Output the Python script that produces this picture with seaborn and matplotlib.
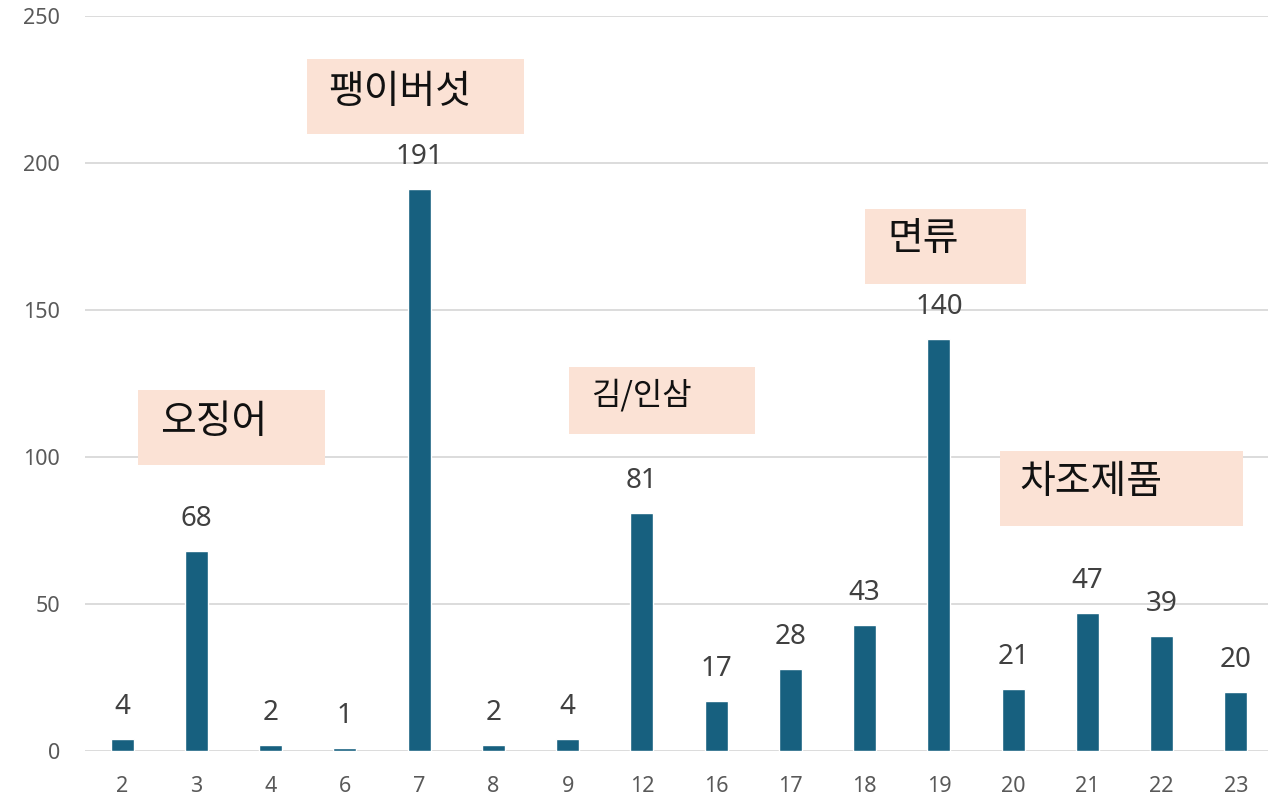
import matplotlib
matplotlib.use("Agg")
import matplotlib.pyplot as plt
import seaborn as sns
import pandas as pd
from matplotlib.patches import Rectangle

categories = ["2", "3", "4", "6", "7", "8", "9", "12", "16", "17", "18", "19", "20", "21", "22", "23"]
values = [4, 68, 2, 1, 191, 2, 4, 81, 17, 28, 43, 140, 21, 47, 39, 20]
notes = ["오징어", "팽이버섯", "김/인삼", "면류", "차조제품"]

sns.set_theme(style="white")
plt.rcParams["font.family"] = ["Noto Sans", "Noto Sans CJK KR", "DejaVu Sans"]

df = pd.DataFrame({"cat": categories, "val": values})

fig = plt.figure(figsize=(12.68, 7.98), dpi=100)
ax = fig.add_axes([0.067, 0.0589, 0.937, 0.9211])

sns.barplot(data=df, x="cat", y="val", color="#17607f", width=0.31,
            saturation=1, ax=ax)

ax.set_ylim(0, 250)
ax.set_xlim(-0.5, len(categories) - 0.5)
ax.set_yticks([0, 50, 100, 150, 200, 250])
ax.yaxis.grid(True, color="#d9d9d9", linewidth=1.3)
ax.set_axisbelow(True)
for s in ax.spines.values():
    s.set_visible(False)
ax.set_xlabel("")
ax.set_ylabel("")
ax.tick_params(axis="both", length=0, labelsize=15.5, labelcolor="#595959")
ax.tick_params(axis="x", pad=18)
ax.tick_params(axis="y", pad=18)

ax.bar_label(ax.containers[0], labels=[str(v) for v in values],
             padding=13, fontsize=20, color="#404040")

# annotation boxes: (x0, x1, y0, y1, text_x, text_y, fontsize)
boxes = [
    (0.215, 2.73, 97.3, 122.8, 0.51, 112.0, 28),
    (2.49, 5.41, 209.9, 235.4, 2.77, 224.0, 28),
    (6.02, 8.52, 107.8, 130.6, 6.31, 121.0, 23),
    (10.0, 12.17, 158.8, 184.4, 10.3, 174.0, 28),
    (11.82, 15.10, 76.5, 102.0, 12.09, 91.5, 28),
]
for note, (x0, x1, y0, y1, tx, ty, fs) in zip(notes, boxes):
    ax.add_patch(Rectangle((x0, y0), x1 - x0, y1 - y0, facecolor="#fbe2d5",
                           edgecolor="none", zorder=3))
    ax.text(tx, ty, note, fontsize=fs, color="#111111", va="center", ha="left",
            family=["Noto Sans CJK KR", "DejaVu Sans"], zorder=4)

fig.savefig("out.png", dpi=100)
